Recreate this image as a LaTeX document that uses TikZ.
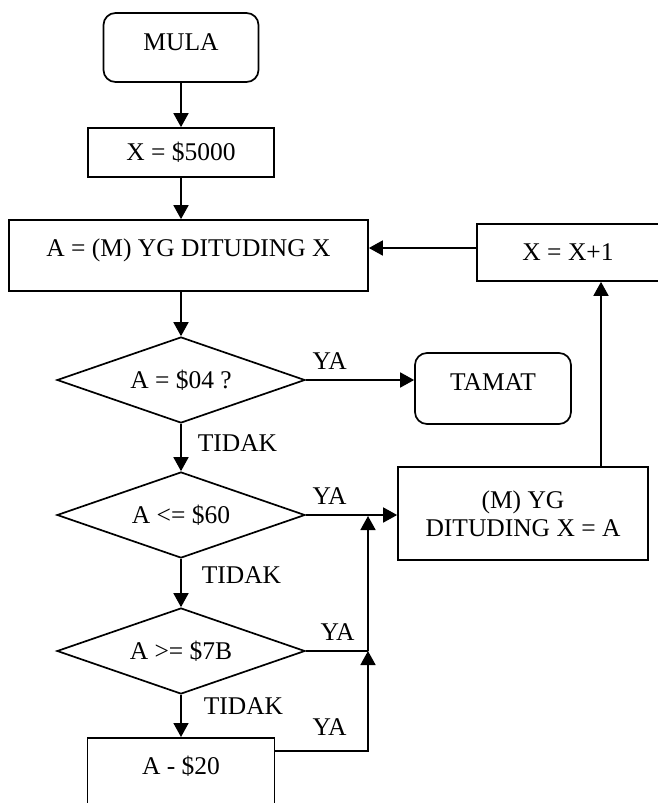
\documentclass[tikz,border=0pt]{standalone}
\usepackage{fontspec}
\setmainfont{Liberation Serif}
\usetikzlibrary{shapes.geometric,arrows.meta,calc}

\tikzset{
  box/.style={draw, line width=0.85pt, inner sep=0pt, align=center,
    font=\fontsize{12.75}{14}\selectfont},
  term/.style={box, rounded corners=6pt},
  test/.style={box, diamond, aspect=2.9, minimum width=124pt, minimum height=43pt},
  flow/.style={line width=0.85pt, -{Triangle[length=7pt,width=7.5pt]}},
  line/.style={line width=0.85pt},
  tag/.style={inner sep=0pt, font=\fontsize{12.75}{14}\selectfont},
}

\begin{document}
\begin{tikzpicture}[x=0.5pt,y=-0.5pt]
  \useasboundingbox (0,0) rectangle (658,803);
  \clip (0,0) rectangle (658,803);

  % main column
  \node[term, minimum width=77.5pt, minimum height=34.5pt, text height=9pt, text depth=6.1pt] (mula) at (181,47.5) {MULA};
  \node[box, minimum width=93pt, minimum height=24.5pt] (x5000) at (181,152.5) {X = \$5000};
  \node[box, minimum width=179.5pt, minimum height=35.5pt, text height=9pt, text depth=8.1pt] (ambil) at (188.5,255.5) {A = (M) YG DITUDING X};
  \node[test] (cek1) at (181,380) {A = \$04 ?};
  \node[test] (cek2) at (181,515) {A <= \$60};
  \node[test] (cek3) at (181,651) {A >= \$7B};
  \node[box, anchor=north, minimum width=93.5pt, minimum height=60pt, text height=9pt, text depth=32.6pt] (tolak) at (181,737) {A - \$20};

  % right side
  \node[term, minimum width=78pt, minimum height=35.5pt, text height=9pt, text depth=7.1pt] (tamat) at (493,388.5) {TAMAT};
  \node[box, minimum width=125pt, minimum height=46.5pt] (simpan) at (523,513.5) {(M) YG\\DITUDING X = A};
  \node[box, minimum width=91pt, minimum height=28.5pt] (tambah) at (568,252.5) {X = X+1};

  % helper points
  \coordinate (rail) at (368,0);
  \coordinate (naik) at (601,0);
  \coordinate (balik) at (0,248);
  \coordinate (keluar) at ($(tolak.north east)+(0,14)$);

  % connectors
  \draw[flow] (mula.south) -- (mula.south |- x5000.north);
  \draw[flow] (x5000.south) -- (x5000.south |- ambil.north);
  \draw[flow] (cek1.north |- ambil.south) -- (cek1.north);
  \draw[flow] (cek1.east) -- node[tag, pos=0.22, above=5pt] {YA} (cek1.east -| tamat.west);
  \draw[flow] (cek1.south) -- node[tag, pos=0.41, right=8pt] {TIDAK} (cek2.north);
  \draw[flow] (cek2.east) -- node[tag, pos=0.26, above=5pt] {YA} (cek2.east -| simpan.west);
  \draw[flow] (cek2.south) -- node[tag, pos=0.33, right=10pt] {TIDAK} (cek3.north);
  \draw[line] (cek3.east) -- node[tag, pos=0.51, above=5pt] {YA} (cek3.east -| rail);
  \draw[flow] (cek3.south) -- node[tag, pos=0.26, right=11pt] {TIDAK} (tolak.north);
  \draw[flow] (keluar) -- node[tag, pos=0.585, above=7.3pt] {YA} (keluar -| rail) -- (cek3.east -| rail);
  \draw[flow, shorten >=0.5pt] (cek3.east -| rail) -- (cek2.east -| rail);
  \draw[flow] (simpan.north -| naik) -- (tambah.south -| naik);
  \draw[flow] (tambah.west |- balik) -- (ambil.east |- balik);
\end{tikzpicture}
\end{document}
